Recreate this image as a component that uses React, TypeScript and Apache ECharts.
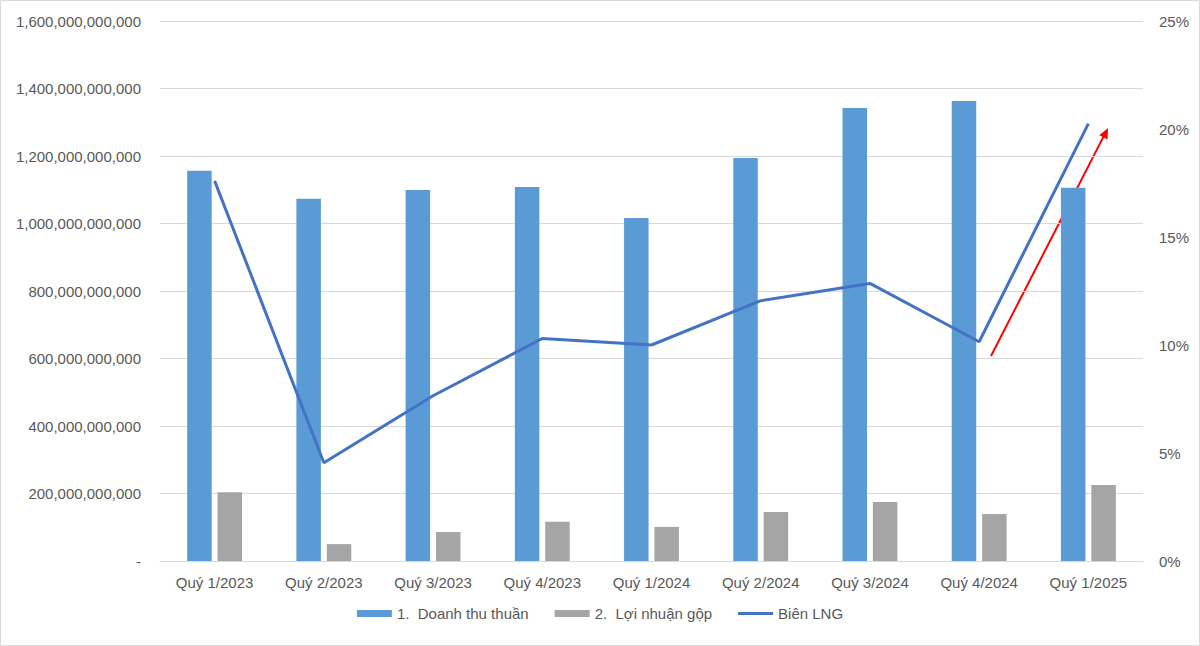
import React, { useEffect, useRef } from "react";
import * as echarts from "echarts";

const categories = ["Quý 1/2023", "Quý 2/2023", "Quý 3/2023", "Quý 4/2023", "Quý 1/2024", "Quý 2/2024", "Quý 3/2024", "Quý 4/2024", "Quý 1/2025"];
const revenue = [1156e9, 1073e9, 1099e9, 1108e9, 1016e9, 1194e9, 1342e9, 1363e9, 1106e9];
const grossProfit = [204e9, 50e9, 86e9, 116e9, 101e9, 145e9, 175e9, 139e9, 225e9];
const margin = [17.6, 4.55, 7.65, 10.3, 10.0, 12.05, 12.85, 10.15, 20.25];
const seriesNames = ["1.  Doanh thu thuần", "2.  Lợi nhuận gộp", "Biên LNG"];

const FONT = "Liberation Sans";
const TXT = "#595959";

export default function App() {
  const ref = useRef<HTMLDivElement>(null);
  useEffect(() => {
    const chart = echarts.init(ref.current!, null, { renderer: "svg" });
    chart.setOption({
      animation: false,
      backgroundColor: "#ffffff",
      textStyle: { fontFamily: FONT, color: TXT },
      grid: { left: 160, right: 57, top: 21, bottom: 85, containLabel: false },
      legend: {
        data: [
          { name: seriesNames[0], icon: "rect" },
          { name: seriesNames[1], icon: "rect" },
          { name: seriesNames[2], icon: "path://M0,0 L35,0 L35,3 L0,3 Z" },
        ],
        bottom: 20,
        left: "center",
        itemWidth: 35,
        itemHeight: 7,
        itemGap: 26,
        symbolKeepAspect: true,
        textStyle: { fontFamily: FONT, fontSize: 15, color: TXT },
      },
      xAxis: {
        type: "category",
        data: categories,
        axisLine: { lineStyle: { color: "#D9D9D9", width: 1 } },
        axisTick: { show: false },
        axisLabel: { color: TXT, fontSize: 15, fontFamily: FONT, margin: 14 },
      },
      yAxis: [
        {
          type: "value",
          min: 0,
          max: 1.6e12,
          interval: 2e11,
          axisLine: { show: false },
          axisTick: { show: false },
          splitLine: { lineStyle: { color: "#D9D9D9", width: 1 } },
          axisLabel: {
            color: TXT,
            fontSize: 15,
            fontFamily: FONT,
            margin: 19,
            formatter: (v: number) => (v === 0 ? "-" : v.toLocaleString("en-US")),
          },
        },
        {
          type: "value",
          min: 0,
          max: 25,
          interval: 5,
          axisLine: { show: false },
          axisTick: { show: false },
          splitLine: { show: false },
          axisLabel: { color: TXT, fontSize: 15, fontFamily: FONT, margin: 16, formatter: (v: number) => v + "%" },
        },
      ],
      series: [
        {
          name: seriesNames[0],
          type: "bar",
          data: revenue,
          barWidth: 24.5,
          barGap: "24%",
          itemStyle: { color: "#5B9BD5" },
        },
        {
          name: seriesNames[1],
          type: "bar",
          data: grossProfit,
          barWidth: 24.5,
          barGap: "24%",
          itemStyle: { color: "#A5A5A5" },
        },
        {
          name: seriesNames[2],
          type: "line",
          yAxisIndex: 1,
          data: margin,
          symbol: "none",
          showSymbol: false,
          lineStyle: { color: "#4472C4", width: 3 },
          itemStyle: { color: "#4472C4" },
        },
      ],
      graphic: [
        {
          type: "rect",
          shape: { x: 0.5, y: 0.5, width: 1199, height: 645 },
          style: { fill: "none", stroke: "#D9D9D9", lineWidth: 1 },
          silent: true,
        },
        {
          type: "line",
          shape: { x1: 991, y1: 356, x2: 1103.4, y2: 136.9 },
          style: { stroke: "#FF0000", lineWidth: 2 },
        },
        {
          type: "polygon",
          shape: { points: [[1108, 128], [1107.5, 139.5], [1099.3, 135.3]] },
          style: { fill: "#FF0000" },
        },
      ],
    });
    return () => chart.dispose();
  }, []);
  return (
    <div
      ref={ref}
      style={{ position: "fixed", left: 0, top: 0, width: 1200, height: 646 }}
    />
  );
}
